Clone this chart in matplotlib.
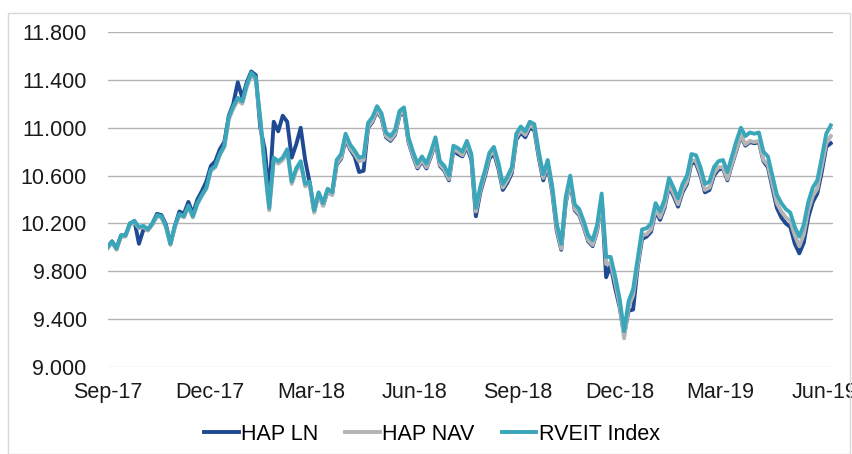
import numpy as np
import pandas as pd
import matplotlib
matplotlib.use("Agg")
import matplotlib.pyplot as plt
import matplotlib.dates as mdates
from matplotlib.patches import Rectangle

# dates: one reading every 4 days from 1 Sep 2017
dates = pd.date_range("2017-09-01", periods=162, freq="4D")

rveit = [
    10.00, 10.05, 9.99, 10.10, 10.10, 10.20, 10.22, 10.17, 10.18, 10.15,
    10.20, 10.27, 10.26, 10.18, 10.03, 10.18, 10.28, 10.26, 10.35, 10.26,
    10.37, 10.44, 10.50, 10.65, 10.68, 10.78, 10.85, 11.09, 11.18, 11.25,
    11.22, 11.36, 11.46, 11.42, 11.08, 10.68, 10.33, 10.75, 10.72, 10.75,
    10.82, 10.55, 10.66, 10.72, 10.53, 10.55, 10.31, 10.46, 10.37, 10.49,
    10.46, 10.73, 10.78, 10.95, 10.86, 10.81, 10.75, 10.76, 11.04, 11.09,
    11.18, 11.12, 10.96, 10.93, 10.98, 11.14, 11.17, 10.92, 10.80, 10.70,
    10.76, 10.70, 10.80, 10.92, 10.72, 10.68, 10.60, 10.85, 10.83, 10.80,
    10.89, 10.78, 10.33, 10.51, 10.64, 10.79, 10.84, 10.71, 10.53, 10.59,
    10.67, 10.95, 11.01, 10.97, 11.05, 11.03, 10.80, 10.61, 10.73, 10.51,
    10.20, 10.03, 10.42, 10.60, 10.36, 10.32, 10.22, 10.10, 10.06, 10.19,
    10.45, 9.92, 9.92, 9.76, 9.57, 9.30, 9.55, 9.65, 9.90, 10.15,
    10.16, 10.20, 10.37, 10.30, 10.40, 10.58, 10.50, 10.41, 10.53, 10.60,
    10.78, 10.77, 10.67, 10.53, 10.55, 10.67, 10.72, 10.73, 10.63, 10.76,
    10.89, 11.00, 10.93, 10.96, 10.95, 10.96, 10.80, 10.76, 10.60, 10.44,
    10.37, 10.32, 10.29, 10.17, 10.09, 10.19, 10.38, 10.50, 10.56, 10.75,
    10.95, 11.02,
]

hap_nav = [
    9.99, 10.04, 9.98, 10.09, 10.09, 10.19, 10.21, 10.16, 10.17, 10.14,
    10.19, 10.26, 10.25, 10.17, 10.02, 10.17, 10.27, 10.25, 10.34, 10.25,
    10.36, 10.43, 10.49, 10.64, 10.67, 10.77, 10.84, 11.07, 11.16, 11.23,
    11.20, 11.34, 11.44, 11.40, 11.06, 10.66, 10.31, 10.73, 10.70, 10.73,
    10.80, 10.53, 10.64, 10.70, 10.51, 10.53, 10.29, 10.44, 10.35, 10.47,
    10.44, 10.70, 10.75, 10.92, 10.83, 10.78, 10.72, 10.73, 11.01, 11.06,
    11.15, 11.09, 10.93, 10.90, 10.95, 11.11, 11.14, 10.89, 10.77, 10.67,
    10.73, 10.67, 10.77, 10.89, 10.69, 10.65, 10.57, 10.82, 10.80, 10.77,
    10.86, 10.75, 10.30, 10.48, 10.61, 10.76, 10.81, 10.68, 10.50, 10.56,
    10.64, 10.92, 10.98, 10.94, 11.02, 11.00, 10.77, 10.58, 10.70, 10.48,
    10.16, 9.99, 10.38, 10.56, 10.32, 10.28, 10.18, 10.06, 10.02, 10.15,
    10.41, 9.86, 9.87, 9.71, 9.52, 9.24, 9.50, 9.60, 9.85, 10.10,
    10.11, 10.15, 10.32, 10.25, 10.35, 10.53, 10.45, 10.36, 10.48, 10.55,
    10.73, 10.72, 10.62, 10.48, 10.50, 10.62, 10.67, 10.67, 10.57, 10.70,
    10.82, 10.94, 10.86, 10.89, 10.88, 10.89, 10.73, 10.69, 10.53, 10.37,
    10.30, 10.25, 10.22, 10.10, 10.01, 10.11, 10.31, 10.43, 10.49, 10.68,
    10.87, 10.93,
]

hap_ln = [
    10.00, 10.05, 9.99, 10.10, 10.10, 10.20, 10.22, 10.03, 10.15, 10.15,
    10.20, 10.28, 10.27, 10.19, 10.03, 10.18, 10.30, 10.28, 10.38, 10.28,
    10.40, 10.47, 10.55, 10.68, 10.72, 10.82, 10.88, 11.10, 11.20, 11.38,
    11.25, 11.38, 11.47, 11.44, 11.00, 10.82, 10.45, 11.05, 10.97, 11.10,
    11.05, 10.75, 10.86, 11.00, 10.73, 10.54, 10.30, 10.45, 10.35, 10.47,
    10.44, 10.69, 10.74, 10.90, 10.82, 10.76, 10.63, 10.64, 11.00, 11.05,
    11.14, 11.08, 10.92, 10.89, 10.94, 11.10, 11.13, 10.88, 10.76, 10.66,
    10.72, 10.66, 10.76, 10.88, 10.68, 10.64, 10.56, 10.81, 10.78, 10.76,
    10.84, 10.73, 10.26, 10.46, 10.59, 10.74, 10.79, 10.66, 10.48, 10.54,
    10.62, 10.90, 10.96, 10.92, 11.00, 10.98, 10.75, 10.56, 10.68, 10.46,
    10.14, 9.98, 10.37, 10.55, 10.31, 10.27, 10.17, 10.05, 10.01, 10.14,
    10.40, 9.75, 9.85, 9.66, 9.50, 9.27, 9.47, 9.48, 9.83, 10.07,
    10.09, 10.13, 10.30, 10.23, 10.33, 10.51, 10.43, 10.34, 10.46, 10.53,
    10.71, 10.70, 10.60, 10.46, 10.48, 10.60, 10.65, 10.66, 10.56, 10.69,
    10.81, 10.93, 10.85, 10.88, 10.87, 10.88, 10.72, 10.67, 10.50, 10.33,
    10.25, 10.20, 10.17, 10.03, 9.95, 10.04, 10.25, 10.38, 10.45, 10.63,
    10.84, 10.87,
]

y_ticks = [9.0, 9.4, 9.8, 10.2, 10.6, 11.0, 11.4, 11.8]
x_ticks = ["2017-09-01", "2017-12-01", "2018-03-01", "2018-06-01",
           "2018-09-01", "2018-12-01", "2019-03-01", "2019-06-01"]

plt.rcParams["font.family"] = ["Liberation Sans", "DejaVu Sans"]

fig = plt.figure(figsize=(8.52, 4.54), dpi=100)
ax = fig.add_axes([0.1262, 0.1916, 0.8515, 0.7379])

ax.plot(dates, hap_ln, color="#1F4A93", lw=2.8, label="HAP LN", zorder=3)
ax.plot(dates, hap_nav, color="#B4B4B4", lw=2.8, label="HAP NAV", zorder=4)
ax.plot(dates, rveit, color="#3AA6BA", lw=2.8, label="RVEIT Index", zorder=5)

ax.set_ylim(9.0, 11.8)
ax.set_yticks(y_ticks)
ax.yaxis.set_major_formatter(plt.FuncFormatter(lambda v, p: f"{v:.3f}"))
ax.set_xlim(dates[0], dates[-1] + pd.Timedelta(days=2))
ax.set_xticks(pd.to_datetime(x_ticks))
ax.xaxis.set_major_formatter(mdates.DateFormatter("%b-%y"))

ax.grid(axis="y", color="#B3B3B3", lw=1.0)
ax.set_axisbelow(True)
ax.get_ygridlines()[0].set_color("#D9D9D9")
for s in ax.spines.values():
    s.set_visible(False)
ax.tick_params(length=0, labelsize=15.5, colors="#1A1A1A")
ax.tick_params(axis="y", pad=15)
ax.tick_params(axis="x", pad=11)

fig.legend(loc="lower center", bbox_to_anchor=(0.507, -0.022), ncol=3,
           frameon=False, fontsize=15.5, handlelength=1.6,
           handletextpad=0.12, columnspacing=1.25)

fig.patches.append(Rectangle((0.009, 0.0), 0.989, 0.972, transform=fig.transFigure,
                             fill=False, edgecolor="#D9D9D9", lw=1.0))

fig.savefig("out.png", dpi=100)
